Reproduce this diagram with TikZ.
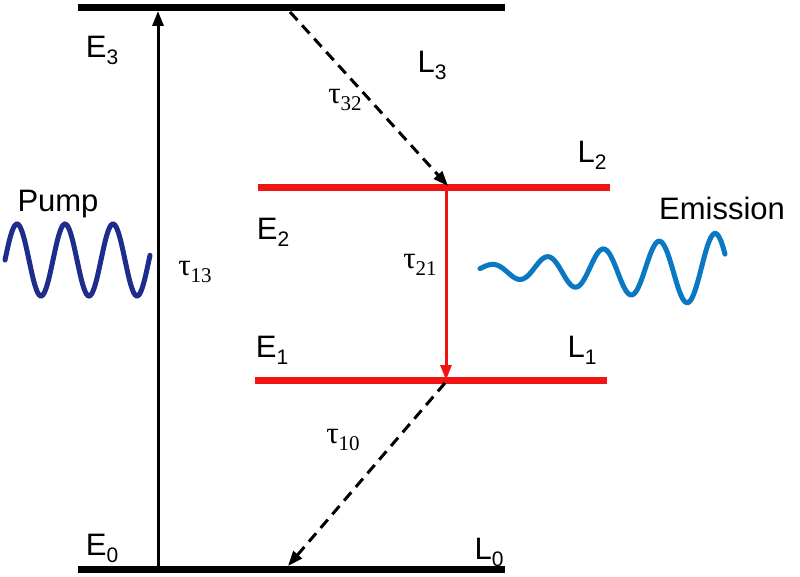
\documentclass[tikz,border=0pt]{standalone}
\usepackage{fontspec}
\setmainfont{Liberation Sans}
\newfontfamily\serifb{Liberation Serif}
\usetikzlibrary{arrows.meta}
\definecolor{lvred}{RGB}{240,20,20}
\definecolor{pumpblue}{RGB}{30,45,140}
\definecolor{emblue}{RGB}{10,120,195}
\newcommand{\sbx}[1]{\raisebox{-7pt}{\fontsize{21}{23}\selectfont #1}}
\begin{document}
\begin{tikzpicture}[x=1pt,y=-1pt,
 level/.style={line width=7pt},
 lab/.style={font=\fontsize{31}{34}\selectfont},
 tlab/.style={font=\serifb\fontsize{31}{34}\selectfont},
 arr/.style={line width=3pt,-{Triangle[length=15pt,width=11pt]}},
 dsh/.style={arr,dash pattern=on 11pt off 7pt}]
\useasboundingbox (0,0) rectangle (800,577);
\coordinate (e3a) at (78,8); \coordinate (e3b) at (505,8);
\coordinate (e0a) at (78,569); \coordinate (e0b) at (505,569);
\coordinate (e2a) at (258,188); \coordinate (e2b) at (610,188);
\coordinate (e1a) at (255,380); \coordinate (e1b) at (607,380);
\draw[level] (e3a) -- (e3b);
\draw[level] (e0a) -- (e0b);
\draw[level,lvred] (e2a) -- (e2b);
\draw[level,lvred] (e1a) -- (e1b);
\coordinate (p0) at (158,566); \coordinate (p1) at (158,11);
\draw[arr] (p0) -- (p1);
\coordinate (d1) at (290,12); \coordinate (d2) at (448,186);
\draw[dsh] (d1) -- (d2);
\coordinate (r1) at (446,191); \coordinate (r2) at (446,380);
\draw[arr,lvred] (r1) -- (r2);
\coordinate (f1) at (445,383); \coordinate (f2) at (288,566);
\draw[dsh] (f1) -- (f2);
\node[tlab] (t13) at (195,272) {τ\sbx{13}};
\node[tlab] (t32) at (345,100) {τ\sbx{32}};
\node[tlab] (t21) at (420,265) {τ\sbx{21}};
\node[tlab] (t10) at (343,440) {τ\sbx{10}};
\node[lab] (E3) at (102,50) {E\sbx{3}};
\node[lab] (L3) at (432,65) {L\sbx{3}};
\node[lab] (L2) at (592,155) {L\sbx{2}};
\node[lab] (E2) at (273,232) {E\sbx{2}};
\node[lab] (E1) at (272,350) {E\sbx{1}};
\node[lab] (L1) at (582,350) {L\sbx{1}};
\node[lab] (E0) at (102,548) {E\sbx{0}};
\node[lab] (L0) at (489,552) {L\sbx{0}};
\node[lab] (pump) at (58,204) {Pump};
\node[lab] (em) at (722,208) {Emission};
\draw[pumpblue,line width=5pt,line cap=round,smooth,samples=120,domain=5:150]
  plot (\x,{260-36*sin(7.5*(\x-5))});
\draw[emblue,line width=5pt,line cap=round,smooth,samples=160,domain=480:725]
  plot (\x,{270-(4+34*((\x-480)/245))*sin(6.43*(\x-480)+20)});
\end{tikzpicture}
\end{document}
